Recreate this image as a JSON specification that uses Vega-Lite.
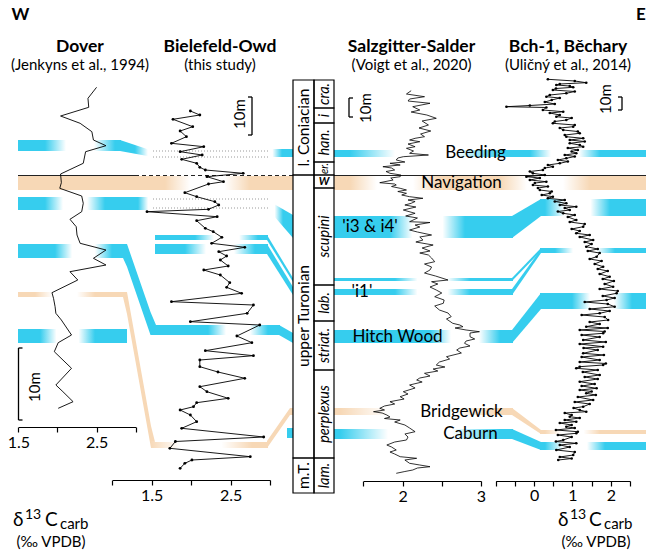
{
"$schema": "https://vega.github.io/schema/vega-lite/v6.json",
"width": 646, "height": 550, "autosize": {"type": "none"}, "padding": 0,
"background": "white",
"config": {"view": {"stroke": null}, "font": "Lato, 'DejaVu Sans'", "text": {"font": "Lato, 'DejaVu Sans'", "color": "black"}},
"datasets": {
"bands": [
{"ev":"Beeding","kind":"positive","x1":18,"x2":121,"top":140,"bot":151},
{"ev":"Navigation","kind":"negative","x1":18,"x2":293,"top":176,"bot":190},
{"ev":"i3 & i4","kind":"positive","x1":18,"x2":153,"top":197,"bot":210},
{"ev":"Hitch Wood","kind":"positive","x1":18,"x2":124,"top":244,"bot":258},
{"ev":"Bridgewick","kind":"negative","x1":18,"x2":124,"top":292,"bot":297},
{"ev":"Caburn","kind":"positive","x1":18,"x2":127,"top":329,"bot":343},
{"ev":"Beeding","kind":"positive","x1":268,"x2":293,"top":149,"bot":157},
{"ev":"Hitch Wood","kind":"positive","x1":155,"x2":280,"top":325,"bot":335},
{"ev":"i1 upper","kind":"positive","x1":155,"x2":268,"top":235,"bot":240},
{"ev":"i1","kind":"positive","x1":155,"x2":268,"top":244,"bot":254},
{"ev":"Bridgewick","kind":"negative","x1":154,"x2":268,"top":442,"bot":448},
{"ev":"Caburn","kind":"positive","x1":287,"x2":293,"top":428,"bot":438},
{"ev":"Beeding","kind":"positive","x1":334,"x2":646,"top":150,"bot":157},
{"ev":"Navigation","kind":"negative","x1":334,"x2":646,"top":176,"bot":190},
{"ev":"i3 & i4","kind":"positive","x1":334,"x2":513,"top":216,"bot":238},
{"ev":"i3 & i4","kind":"positive","x1":540,"x2":646,"top":199,"bot":216},
{"ev":"i1 upper","kind":"positive","x1":334,"x2":513,"top":278,"bot":281},
{"ev":"i1","kind":"positive","x1":334,"x2":513,"top":289,"bot":295},
{"ev":"i1","kind":"positive","x1":540,"x2":646,"top":248,"bot":253},
{"ev":"Hitch Wood","kind":"positive","x1":334,"x2":513,"top":330,"bot":343},
{"ev":"Hitch Wood","kind":"positive","x1":540,"x2":646,"top":293,"bot":309},
{"ev":"Bridgewick","kind":"negative","x1":334,"x2":513,"top":408,"bot":415},
{"ev":"Bridgewick","kind":"negative","x1":540,"x2":646,"top":430,"bot":434},
{"ev":"Caburn","kind":"positive","x1":334,"x2":513,"top":429,"bot":439},
{"ev":"Caburn","kind":"positive","x1":540,"x2":646,"top":442,"bot":450}
],
"conn": [
{"cid":"A1","kind":"positive","tx":120,"top":140,"bot":151},{"cid":"A1","kind":"positive","tx":153,"top":151,"bot":157},
{"cid":"A2","kind":"positive","tx":123,"top":244,"bot":258},{"cid":"A2","kind":"positive","tx":127,"top":244,"bot":266.7},{"cid":"A2","kind":"positive","tx":150.5,"top":312,"bot":335},{"cid":"A2","kind":"positive","tx":156,"top":325,"bot":335},
{"cid":"A3","kind":"negative","tx":123,"top":292,"bot":297},{"cid":"A3","kind":"negative","tx":127,"top":292,"bot":314},{"cid":"A3","kind":"negative","tx":151,"top":426,"bot":448},{"cid":"A3","kind":"negative","tx":155,"top":442,"bot":448},
{"cid":"B2","kind":"positive","tx":267,"top":200,"bot":208},{"cid":"B2","kind":"positive","tx":293,"top":215,"bot":238},
{"cid":"B3","kind":"positive","tx":267,"top":235,"bot":240},{"cid":"B3","kind":"positive","tx":293,"top":278,"bot":282},
{"cid":"B4","kind":"positive","tx":267,"top":244,"bot":254},{"cid":"B4","kind":"positive","tx":293,"top":287,"bot":295},
{"cid":"B5","kind":"positive","tx":279,"top":325,"bot":335},{"cid":"B5","kind":"positive","tx":293,"top":333,"bot":343},
{"cid":"B6","kind":"negative","tx":267,"top":441,"bot":448},{"cid":"B6","kind":"negative","tx":290,"top":408,"bot":415},{"cid":"B6","kind":"negative","tx":293,"top":408,"bot":415},
{"cid":"C1","kind":"positive","tx":512,"top":216,"bot":238},{"cid":"C1","kind":"positive","tx":541,"top":199,"bot":216},
{"cid":"C2","kind":"positive","tx":512,"top":278,"bot":281},{"cid":"C2","kind":"positive","tx":541,"top":248,"bot":251},
{"cid":"C3","kind":"positive","tx":512,"top":289,"bot":295},{"cid":"C3","kind":"positive","tx":541,"top":249,"bot":253},
{"cid":"C4","kind":"positive","tx":512,"top":330,"bot":343},{"cid":"C4","kind":"positive","tx":541,"top":293,"bot":309},
{"cid":"C5","kind":"negative","tx":512,"top":408,"bot":415},{"cid":"C5","kind":"negative","tx":541,"top":430,"bot":434},
{"cid":"C6","kind":"positive","tx":512,"top":429,"bot":439},{"cid":"C6","kind":"positive","tx":541,"top":442,"bot":450}
],
"fades": [
{"x1":45,"x2":115,"top":139,"bot":152},{"x1":135,"x2":178,"top":139,"bot":158},{"x1":250,"x2":282,"top":148,"bot":158},
{"x1":165,"x2":250,"top":175,"bot":191},{"x1":45,"x2":105,"top":196,"bot":211},{"x1":138,"x2":172,"top":196,"bot":211},
{"x1":255,"x2":283,"top":198,"bot":226},{"x1":55,"x2":112,"top":243,"bot":259},{"x1":208,"x2":268,"top":324,"bot":336},
{"x1":195,"x2":258,"top":234,"bot":241},{"x1":185,"x2":255,"top":243,"bot":255},{"x1":35,"x2":95,"top":291,"bot":298},
{"x1":150,"x2":252,"top":441,"bot":449},{"x1":40,"x2":95,"top":328,"bot":344},
{"x1":350,"x2":500,"top":149,"bot":158},{"x1":530,"x2":600,"top":149,"bot":158},
{"x1":350,"x2":440,"top":175,"bot":191},{"x1":500,"x2":590,"top":175,"bot":191},
{"x1":390,"x2":465,"top":215,"bot":239},{"x1":545,"x2":610,"top":198,"bot":217},
{"x1":395,"x2":470,"top":277,"bot":282},{"x1":395,"x2":470,"top":288,"bot":296},{"x1":555,"x2":615,"top":247,"bot":254},
{"x1":430,"x2":500,"top":329,"bot":344},{"x1":572,"x2":632,"top":292,"bot":310},
{"x1":340,"x2":500,"top":407,"bot":416},{"x1":545,"x2":600,"top":429,"bot":435},
{"x1":340,"x2":500,"top":428,"bot":440},{"x1":545,"x2":605,"top":441,"bot":451}
],
"dotted": [
{"x1":153,"x2":268,"lvl":151},{"x1":153,"x2":268,"lvl":157},{"x1":153,"x2":268,"lvl":199},{"x1":153,"x2":268,"lvl":208}
],
"boundary": [
{"x1":18,"x2":135,"lvl":175.5,"style":"certain"},{"x1":135,"x2":293,"lvl":175.5,"style":"uncertain"},{"x1":334,"x2":646,"lvl":175.5,"style":"certain"}
],
"stages": [
{"x1":293,"x2":314,"top":80,"bot":175,"label":"l. Coniacian","ly":127.5},
{"x1":293,"x2":314,"top":175,"bot":458,"label":"upper Turonian","ly":316},
{"x1":293,"x2":314,"top":458,"bot":493,"label":"m.T.","ly":475.5}
],
"zones": [
{"x1":314,"x2":334,"top":80,"bot":108,"label":"cra.","ly":94},
{"x1":314,"x2":334,"top":108,"bot":123,"label":"i","ly":115.5},
{"x1":314,"x2":334,"top":123,"bot":162,"label":"han.","ly":142.5},
{"x1":314,"x2":334,"top":162,"bot":175,"label":"","ly":168.5},
{"x1":314,"x2":334,"top":175,"bot":188,"label":"","ly":181.5},
{"x1":314,"x2":334,"top":188,"bot":285,"label":"scupini","ly":236.5},
{"x1":314,"x2":334,"top":285,"bot":321,"label":"lab.","ly":303},
{"x1":314,"x2":334,"top":321,"bot":370,"label":"striat.","ly":345.5},
{"x1":314,"x2":334,"top":370,"bot":458,"label":"perplexus","ly":414},
{"x1":314,"x2":334,"top":458,"bot":493,"label":"lam.","ly":475.5}
],
"zonesmall": [{"label":"er.","ly":168.5}],
"wsym": [{"label":"W","tx":324,"lvl":182}],
"bars": [
{"x1":18.5,"y1":348,"x2":18.5,"y2":420},{"x1":18.5,"y1":348,"x2":22.5,"y2":348},{"x1":18.5,"y1":420,"x2":22.5,"y2":420},
{"x1":252,"y1":97,"x2":252,"y2":135},{"x1":248,"y1":97,"x2":252,"y2":97},{"x1":248,"y1":135,"x2":252,"y2":135},
{"x1":349,"y1":98,"x2":349,"y2":117},{"x1":349,"y1":98,"x2":353,"y2":98},{"x1":349,"y1":117,"x2":353,"y2":117},
{"x1":622,"y1":97,"x2":622,"y2":110},{"x1":618,"y1":97,"x2":622,"y2":97},{"x1":618,"y1":110,"x2":622,"y2":110}
],
"barlabels": [
{"label":"10m","tx":35,"lvl":387},{"label":"10m","tx":240,"lvl":114},{"label":"10m","tx":366,"lvl":108},{"label":"10m","tx":606,"lvl":99}
],
"dover": [
{"lvl":87.3,"v":2.50},{"lvl":98.3,"v":2.39},{"lvl":107.3,"v":2.40},{"lvl":116,"v":2.04},{"lvl":123.3,"v":2.29},{"lvl":131.7,"v":2.44},{"lvl":140,"v":2.46},{"lvl":145.7,"v":2.62},{"lvl":151.7,"v":2.36},{"lvl":163.3,"v":2.33},{"lvl":174,"v":2.04},{"lvl":182.7,"v":2.05},{"lvl":188.3,"v":2.03},{"lvl":196,"v":2.31},{"lvl":203.3,"v":2.33},{"lvl":211.7,"v":2.31},{"lvl":219.3,"v":2.16},{"lvl":226.7,"v":2.24},{"lvl":235,"v":2.25},{"lvl":243.3,"v":2.29},{"lvl":250,"v":2.62},{"lvl":258.3,"v":2.46},{"lvl":265,"v":2.62},{"lvl":271.7,"v":2.16},{"lvl":280,"v":2.26},{"lvl":292.7,"v":1.93},{"lvl":298.3,"v":1.95},{"lvl":306.7,"v":1.97},{"lvl":313.3,"v":1.98},{"lvl":320,"v":2.05},{"lvl":335,"v":2.18},{"lvl":342.7,"v":2.01},{"lvl":351.7,"v":1.96},{"lvl":368.3,"v":2.18},{"lvl":375,"v":2.10},{"lvl":385,"v":1.98},{"lvl":391.7,"v":2.07},{"lvl":401.7,"v":2.20},{"lvl":408.3,"v":2.01}
],
"biel": [
{"lvl":111,"v":1.99},{"lvl":115,"v":2.11},{"lvl":119.3,"v":1.77},{"lvl":126.7,"v":2.02},{"lvl":131,"v":1.86},{"lvl":136.7,"v":1.94},{"lvl":143.3,"v":1.75},{"lvl":146.7,"v":2.16},{"lvl":151.7,"v":1.86},{"lvl":155,"v":2.14},{"lvl":159.3,"v":1.88},{"lvl":163.3,"v":2.07},{"lvl":167.3,"v":2.11},{"lvl":170,"v":2.18},{"lvl":173.3,"v":2.66},{"lvl":176.7,"v":2.20},{"lvl":181.7,"v":2.41},{"lvl":184,"v":2.22},{"lvl":192.7,"v":1.92},{"lvl":196.7,"v":2.07},{"lvl":201.7,"v":2.30},{"lvl":205,"v":2.35},{"lvl":209.3,"v":2.22},{"lvl":211.7,"v":1.44},{"lvl":216.7,"v":2.33},{"lvl":220.7,"v":2.07},{"lvl":228.3,"v":2.18},{"lvl":231.7,"v":2.28},{"lvl":237.3,"v":2.39},{"lvl":243.3,"v":2.26},{"lvl":247.3,"v":2.68},{"lvl":251.7,"v":2.35},{"lvl":256,"v":2.45},{"lvl":260,"v":2.37},{"lvl":266,"v":2.47},{"lvl":270,"v":2.16},{"lvl":275,"v":2.37},{"lvl":282.7,"v":2.49},{"lvl":287.3,"v":2.45},{"lvl":293.3,"v":2.64},{"lvl":301.7,"v":1.75},{"lvl":305,"v":2.79},{"lvl":313.3,"v":2.71},{"lvl":321.7,"v":1.99},{"lvl":325,"v":2.87},{"lvl":336,"v":2.58},{"lvl":342.7,"v":2.77},{"lvl":350.7,"v":2.18},{"lvl":355.7,"v":2.79},{"lvl":360,"v":2.11},{"lvl":366.7,"v":2.11},{"lvl":372,"v":2.34},{"lvl":378.3,"v":2.68},{"lvl":386.7,"v":2.11},{"lvl":391.7,"v":2.20},{"lvl":398.3,"v":2.47},{"lvl":402.7,"v":2.07},{"lvl":406.7,"v":2.03},{"lvl":410,"v":1.86},{"lvl":415,"v":1.99},{"lvl":421.7,"v":2.07},{"lvl":428.3,"v":1.88},{"lvl":437,"v":2.92},{"lvl":441.5,"v":1.80},{"lvl":448.3,"v":1.73},{"lvl":456.7,"v":2.75},{"lvl":460,"v":2.01},{"lvl":463.3,"v":1.92},{"lvl":468.3,"v":1.86}
],
"salz": [
{"lvl":90.7,"v":2.11},{"lvl":94,"v":2.05},{"lvl":96.7,"v":2.28},{"lvl":99,"v":2.09},{"lvl":101,"v":2.07},{"lvl":103.3,"v":2.35},{"lvl":106.7,"v":2.13},{"lvl":110,"v":2.22},{"lvl":112,"v":2.11},{"lvl":115,"v":2.31},{"lvl":118.3,"v":2.43},{"lvl":121,"v":2.25},{"lvl":125,"v":2.33},{"lvl":128,"v":2.21},{"lvl":131,"v":2.36},{"lvl":134,"v":2.23},{"lvl":136.7,"v":2.28},{"lvl":138.3,"v":2.16},{"lvl":140,"v":2.09},{"lvl":141.7,"v":2.22},{"lvl":144,"v":2.07},{"lvl":146.7,"v":2.16},{"lvl":148.3,"v":2.05},{"lvl":151,"v":2.14},{"lvl":153.3,"v":2.09},{"lvl":155,"v":2.33},{"lvl":156.7,"v":2.01},{"lvl":158,"v":1.94},{"lvl":160,"v":1.92},{"lvl":162,"v":2.03},{"lvl":163.3,"v":1.84},{"lvl":165,"v":1.97},{"lvl":166.7,"v":1.75},{"lvl":168,"v":1.86},{"lvl":170,"v":1.90},{"lvl":171.5,"v":1.79},{"lvl":173.3,"v":1.84},{"lvl":175,"v":1.98},{"lvl":176.7,"v":1.97},{"lvl":178,"v":1.85},{"lvl":180,"v":1.88},{"lvl":182.7,"v":1.71},{"lvl":184,"v":1.90},{"lvl":185,"v":1.92},{"lvl":186.5,"v":1.86},{"lvl":188.3,"v":1.97},{"lvl":190,"v":2.05},{"lvl":191.5,"v":1.94},{"lvl":193.3,"v":2.05},{"lvl":195,"v":1.99},{"lvl":196.7,"v":2.09},{"lvl":198.3,"v":2.26},{"lvl":200,"v":2.07},{"lvl":201.5,"v":2.16},{"lvl":203.3,"v":2.11},{"lvl":205,"v":2.03},{"lvl":207,"v":2.17},{"lvl":210,"v":2.01},{"lvl":213.3,"v":2.16},{"lvl":216,"v":2.04},{"lvl":218,"v":2.19},{"lvl":221.7,"v":2.09},{"lvl":222.5,"v":2.35},{"lvl":225,"v":2.16},{"lvl":227,"v":2.22},{"lvl":230,"v":2.09},{"lvl":232,"v":2.19},{"lvl":235,"v":2.37},{"lvl":237,"v":2.22},{"lvl":240,"v":2.26},{"lvl":242,"v":2.17},{"lvl":245,"v":2.39},{"lvl":248,"v":2.25},{"lvl":251,"v":2.35},{"lvl":253,"v":2.22},{"lvl":255,"v":2.33},{"lvl":258,"v":2.37},{"lvl":261.7,"v":2.41},{"lvl":264,"v":2.28},{"lvl":267,"v":2.37},{"lvl":270,"v":2.35},{"lvl":273,"v":2.28},{"lvl":276,"v":2.42},{"lvl":280,"v":2.58},{"lvl":281.7,"v":2.37},{"lvl":284,"v":2.45},{"lvl":287,"v":2.35},{"lvl":290,"v":2.43},{"lvl":293,"v":2.50},{"lvl":296.7,"v":2.41},{"lvl":300,"v":2.53},{"lvl":303.3,"v":2.52},{"lvl":306,"v":2.41},{"lvl":310,"v":2.47},{"lvl":313,"v":2.58},{"lvl":316.7,"v":2.62},{"lvl":319,"v":2.56},{"lvl":323.3,"v":2.64},{"lvl":325,"v":2.73},{"lvl":326.7,"v":2.77},{"lvl":328,"v":2.67},{"lvl":330,"v":2.81},{"lvl":331.7,"v":2.98},{"lvl":333,"v":2.86},{"lvl":336.7,"v":2.86},{"lvl":339,"v":2.92},{"lvl":341,"v":2.81},{"lvl":343.3,"v":2.79},{"lvl":346,"v":2.86},{"lvl":348,"v":2.73},{"lvl":350,"v":2.69},{"lvl":353,"v":2.75},{"lvl":356.7,"v":2.56},{"lvl":359,"v":2.60},{"lvl":362,"v":2.47},{"lvl":365,"v":2.43},{"lvl":367,"v":2.54},{"lvl":369,"v":2.39},{"lvl":371,"v":2.45},{"lvl":373.3,"v":2.28},{"lvl":376,"v":2.35},{"lvl":378,"v":2.22},{"lvl":380,"v":2.18},{"lvl":382,"v":2.25},{"lvl":385,"v":2.09},{"lvl":388,"v":2.16},{"lvl":391.7,"v":2.01},{"lvl":394,"v":2.07},{"lvl":396.7,"v":1.97},{"lvl":399,"v":2.02},{"lvl":401.7,"v":1.84},{"lvl":404,"v":1.90},{"lvl":406,"v":1.77},{"lvl":408.3,"v":1.71},{"lvl":410,"v":1.77},{"lvl":411.7,"v":1.63},{"lvl":413,"v":1.74},{"lvl":415,"v":1.80},{"lvl":417,"v":1.84},{"lvl":418.5,"v":1.77},{"lvl":420,"v":1.97},{"lvl":422,"v":1.90},{"lvl":425,"v":2.03},{"lvl":428,"v":2.09},{"lvl":431.7,"v":2.16},{"lvl":434,"v":2.03},{"lvl":437,"v":2.07},{"lvl":440,"v":2.05},{"lvl":442,"v":1.90},{"lvl":445,"v":1.80},{"lvl":447,"v":1.86},{"lvl":450,"v":1.92},{"lvl":452,"v":1.84},{"lvl":454,"v":1.90},{"lvl":456.7,"v":1.97},{"lvl":458.3,"v":2.18},{"lvl":460,"v":2.03},{"lvl":463.3,"v":2.09},{"lvl":465,"v":2.22},{"lvl":466.7,"v":2.35},{"lvl":468,"v":2.19},{"lvl":470,"v":2.13},{"lvl":471.5,"v":2.03},{"lvl":473.3,"v":1.92}
],
"bch": [
{"lvl":79.3,"v":0.36},{"lvl":81,"v":1.06},{"lvl":82.7,"v":1.36},{"lvl":84,"v":0.67},{"lvl":85,"v":0.58},{"lvl":86,"v":0.93},{"lvl":87.3,"v":1.02},{"lvl":88.5,"v":0.57},{"lvl":90,"v":0.49},{"lvl":91.5,"v":1.06},{"lvl":93.3,"v":0.84},{"lvl":95,"v":0.41},{"lvl":96.7,"v":0.32},{"lvl":98,"v":0.67},{"lvl":100,"v":0.46},{"lvl":102,"v":0.28},{"lvl":104,"v":0.54},{"lvl":105.5,"v":-0.11},{"lvl":106.7,"v":-0.72},{"lvl":107.5,"v":0.32},{"lvl":110,"v":0.23},{"lvl":111.7,"v":0.76},{"lvl":113,"v":0.41},{"lvl":115,"v":0.67},{"lvl":116.7,"v":0.58},{"lvl":118,"v":0.98},{"lvl":120,"v":0.84},{"lvl":121.5,"v":0.54},{"lvl":123.3,"v":0.49},{"lvl":125,"v":1.06},{"lvl":126.7,"v":1.02},{"lvl":128,"v":0.67},{"lvl":130,"v":0.76},{"lvl":131.5,"v":1.14},{"lvl":133.3,"v":1.19},{"lvl":135,"v":0.80},{"lvl":136.7,"v":0.84},{"lvl":138.3,"v":1.28},{"lvl":140,"v":0.93},{"lvl":141.5,"v":1.32},{"lvl":143.3,"v":0.93},{"lvl":145,"v":1.19},{"lvl":146.7,"v":1.28},{"lvl":148,"v":0.88},{"lvl":150,"v":1.14},{"lvl":151.5,"v":0.98},{"lvl":153.3,"v":1.10},{"lvl":155,"v":0.80},{"lvl":156.5,"v":1.06},{"lvl":158.3,"v":0.84},{"lvl":160,"v":0.62},{"lvl":161.5,"v":0.88},{"lvl":163.3,"v":0.67},{"lvl":165,"v":0.36},{"lvl":166.7,"v":0.49},{"lvl":168,"v":0.28},{"lvl":170,"v":0.23},{"lvl":171.5,"v":-0.11},{"lvl":173.3,"v":-0.03},{"lvl":175,"v":0.28},{"lvl":176.7,"v":-0.20},{"lvl":178,"v":0.15},{"lvl":180,"v":-0.11},{"lvl":181.7,"v":0.32},{"lvl":183,"v":0.02},{"lvl":185,"v":-0.03},{"lvl":186.5,"v":0.36},{"lvl":188,"v":0.10},{"lvl":190,"v":0.15},{"lvl":191.5,"v":0.46},{"lvl":193.3,"v":0.41},{"lvl":195,"v":0.20},{"lvl":196.7,"v":0.49},{"lvl":198.3,"v":0.36},{"lvl":200,"v":0.80},{"lvl":201.5,"v":0.54},{"lvl":203.3,"v":0.84},{"lvl":205,"v":0.67},{"lvl":206.7,"v":1.10},{"lvl":208,"v":0.80},{"lvl":210,"v":0.93},{"lvl":211.5,"v":0.62},{"lvl":213.3,"v":0.76},{"lvl":215,"v":1.06},{"lvl":217,"v":0.88},{"lvl":220,"v":1.10},{"lvl":222,"v":0.93},{"lvl":224,"v":1.32},{"lvl":226.7,"v":1.28},{"lvl":229,"v":0.98},{"lvl":231,"v":1.19},{"lvl":233.3,"v":1.10},{"lvl":235,"v":1.45},{"lvl":237,"v":1.19},{"lvl":240,"v":1.54},{"lvl":242,"v":1.32},{"lvl":244,"v":1.50},{"lvl":246.7,"v":1.36},{"lvl":249,"v":1.66},{"lvl":251,"v":1.40},{"lvl":253,"v":1.71},{"lvl":256.7,"v":1.63},{"lvl":259,"v":1.45},{"lvl":261,"v":1.76},{"lvl":264,"v":1.58},{"lvl":266.7,"v":1.80},{"lvl":269,"v":1.66},{"lvl":271,"v":1.92},{"lvl":274,"v":1.71},{"lvl":276.7,"v":1.97},{"lvl":279,"v":1.79},{"lvl":281,"v":2.08},{"lvl":284,"v":1.84},{"lvl":286.7,"v":2.06},{"lvl":289,"v":1.71},{"lvl":291,"v":2.18},{"lvl":293.3,"v":2.15},{"lvl":296,"v":1.79},{"lvl":298,"v":2.10},{"lvl":300,"v":1.89},{"lvl":302,"v":1.32},{"lvl":304,"v":1.92},{"lvl":306.7,"v":2.10},{"lvl":309,"v":1.45},{"lvl":311,"v":1.97},{"lvl":313.3,"v":1.71},{"lvl":315,"v":1.24},{"lvl":317,"v":1.84},{"lvl":320,"v":1.93},{"lvl":322,"v":1.45},{"lvl":324,"v":1.71},{"lvl":326.7,"v":1.36},{"lvl":328,"v":1.92},{"lvl":330,"v":1.19},{"lvl":331.5,"v":1.84},{"lvl":333.3,"v":1.80},{"lvl":335,"v":1.24},{"lvl":337,"v":1.71},{"lvl":340,"v":1.28},{"lvl":342,"v":1.87},{"lvl":344,"v":1.19},{"lvl":346.7,"v":1.80},{"lvl":348,"v":1.29},{"lvl":350,"v":1.66},{"lvl":353.3,"v":1.28},{"lvl":355,"v":1.82},{"lvl":357,"v":1.24},{"lvl":360,"v":1.71},{"lvl":362,"v":1.19},{"lvl":363.5,"v":1.87},{"lvl":365,"v":1.80},{"lvl":366.7,"v":1.19},{"lvl":368.3,"v":1.10},{"lvl":370,"v":1.66},{"lvl":372,"v":1.27},{"lvl":375,"v":1.71},{"lvl":377,"v":1.32},{"lvl":379,"v":1.66},{"lvl":381.7,"v":1.19},{"lvl":384,"v":1.58},{"lvl":386,"v":1.24},{"lvl":388.3,"v":1.63},{"lvl":390,"v":1.19},{"lvl":391.5,"v":1.50},{"lvl":393.3,"v":1.36},{"lvl":395,"v":1.61},{"lvl":397,"v":1.14},{"lvl":400,"v":1.54},{"lvl":402,"v":1.06},{"lvl":404,"v":1.45},{"lvl":406.7,"v":1.28},{"lvl":408,"v":1.03},{"lvl":410,"v":1.19},{"lvl":411.7,"v":1.36},{"lvl":413,"v":0.80},{"lvl":415,"v":0.98},{"lvl":416.7,"v":0.93},{"lvl":418,"v":1.19},{"lvl":420,"v":0.80},{"lvl":421.7,"v":1.10},{"lvl":423,"v":0.67},{"lvl":425,"v":0.98},{"lvl":426.7,"v":0.84},{"lvl":428,"v":1.06},{"lvl":430,"v":0.57},{"lvl":431.7,"v":1.14},{"lvl":433.3,"v":1.10},{"lvl":435,"v":0.62},{"lvl":437,"v":0.98},{"lvl":440,"v":0.76},{"lvl":441.5,"v":0.57},{"lvl":443.3,"v":1.10},{"lvl":445,"v":0.67},{"lvl":447,"v":0.93},{"lvl":450,"v":0.58},{"lvl":452,"v":1.06},{"lvl":455,"v":1.02},{"lvl":457,"v":0.67},{"lvl":458.5,"v":0.98},{"lvl":460,"v":0.63}
],
"titles": [
{"label":"Dover","tx":80,"lvl":47},{"label":"Bielefeld-Owd","tx":220,"lvl":47},{"label":"Salzgitter-Salder","tx":411.5,"lvl":47},{"label":"Bch-1, Běchary","tx":568,"lvl":47}
],
"subtitles": [
{"label":"(Jenkyns et al., 1994)","tx":80,"lvl":64.5},{"label":"(this study)","tx":220,"lvl":64.5},{"label":"(Voigt et al., 2020)","tx":411.5,"lvl":64.5},{"label":"(Uličný et al., 2014)","tx":568,"lvl":64.5}
],
"evlabels": [
{"label":"Beeding","tx":475.5,"lvl":153},{"label":"Navigation","tx":461.5,"lvl":183},{"label":"'i3 & i4'","tx":370,"lvl":227},{"label":"'i1'","tx":362,"lvl":292},{"label":"Hitch Wood","tx":397.5,"lvl":337},{"label":"Bridgewick","tx":461.5,"lvl":411.5},{"label":"Caburn","tx":470.5,"lvl":434}
],
"compass": [{"label":"W","tx":20.5,"lvl":15},{"label":"E","tx":641,"lvl":15}],
"dmain": [{"t":"δ","tx":13,"lvl":525.5},{"t":"C","tx":45,"lvl":525.5},{"t":"δ","tx":558,"lvl":525.5},{"t":"C","tx":589,"lvl":525.5}],
"dsup": [{"t":"13","tx":25,"lvl":518.5},{"t":"13","tx":570,"lvl":518.5}],
"dsub": [{"t":"carb","tx":60,"lvl":529},{"t":"carb","tx":604,"lvl":529}],
"dunit": [{"t":"(‰ VPDB)","tx":51,"lvl":542},{"t":"(‰ VPDB)","tx":596,"lvl":542}]
},
"layer": [
{"data":{"name":"bands"},"mark":{"type":"rect","opacity":1},
 "encoding":{"x":{"field":"x1","type":"quantitative","scale":{"domain":[0,646]},"axis":null},"x2":{"field":"x2"},
  "y":{"field":"top","type":"quantitative","scale":{"domain":[0,550],"reverse":true},"axis":null},"y2":{"field":"bot"},
  "color":{"field":"kind","type":"nominal","scale":{"domain":["positive","negative"],"range":["#36cdee","#f7d8b6"]},"legend":null}}},
{"data":{"name":"conn"},"mark":{"type":"area","opacity":1},
 "encoding":{"x":{"field":"tx","type":"quantitative","scale":{"domain":[0,646]},"axis":null},
  "y":{"field":"top","type":"quantitative","scale":{"domain":[0,550],"reverse":true},"axis":null},"y2":{"field":"bot"},
  "detail":{"field":"cid"},
  "color":{"field":"kind","type":"nominal","scale":{"domain":["positive","negative"],"range":["#36cdee","#f7d8b6"]},"legend":null}}},
{"data":{"name":"fades"},"mark":{"type":"rect","opacity":1,"fill":{"gradient":"linear","x1":0,"y1":0,"x2":1,"y2":0,"stops":[{"offset":0,"color":"rgba(255,255,255,0)"},{"offset":0.3,"color":"#ffffff"},{"offset":0.7,"color":"#ffffff"},{"offset":1,"color":"rgba(255,255,255,0)"}]}},
 "encoding":{"x":{"field":"x1","type":"quantitative","scale":{"domain":[0,646]},"axis":null},"x2":{"field":"x2"},
  "y":{"field":"top","type":"quantitative","scale":{"domain":[0,550],"reverse":true},"axis":null},"y2":{"field":"bot"}}},
{"data":{"name":"dotted"},"mark":{"type":"rule","color":"#9a9a9a","strokeWidth":1,"strokeDash":[1,2]},
 "encoding":{"x":{"field":"x1","type":"quantitative","scale":{"domain":[0,646]},"axis":null},"x2":{"field":"x2"},
  "y":{"field":"lvl","type":"quantitative","scale":{"domain":[0,550],"reverse":true},"axis":null}}},
{"data":{"name":"boundary"},"mark":{"type":"rule","color":"#222","strokeWidth":1.1},
 "encoding":{"x":{"field":"x1","type":"quantitative","scale":{"domain":[0,646]},"axis":null},"x2":{"field":"x2"},
  "y":{"field":"lvl","type":"quantitative","scale":{"domain":[0,550],"reverse":true},"axis":null},
  "strokeDash":{"field":"style","type":"nominal","scale":{"domain":["certain","uncertain"],"range":[[1,0],[4,3]]},"legend":null}}},
{"data":{"name":"stages"},"mark":{"type":"rect","filled":false,"color":"black","strokeWidth":1.2},
 "encoding":{"x":{"field":"x1","type":"quantitative","scale":{"domain":[0,646]},"axis":null},"x2":{"field":"x2"},
  "y":{"field":"top","type":"quantitative","scale":{"domain":[0,550],"reverse":true},"axis":null},"y2":{"field":"bot"}}},
{"data":{"name":"zones"},"mark":{"type":"rect","filled":false,"color":"black","strokeWidth":1.2},
 "encoding":{"x":{"field":"x1","type":"quantitative","scale":{"domain":[0,646]},"axis":null},"x2":{"field":"x2"},
  "y":{"field":"top","type":"quantitative","scale":{"domain":[0,550],"reverse":true},"axis":null},"y2":{"field":"bot"}}},
{"data":{"name":"stages"},"mark":{"type":"text","angle":270,"fontSize":15.5,"align":"center","baseline":"middle"},
 "encoding":{"x":{"datum":304,"type":"quantitative","scale":{"domain":[0,646]},"axis":null},
  "y":{"field":"ly","type":"quantitative","scale":{"domain":[0,550],"reverse":true},"axis":null},"text":{"field":"label"}}},
{"data":{"name":"zones"},"mark":{"type":"text","angle":270,"fontSize":14.5,"fontStyle":"italic","align":"center","baseline":"middle"},
 "encoding":{"x":{"datum":324.5,"type":"quantitative","scale":{"domain":[0,646]},"axis":null},
  "y":{"field":"ly","type":"quantitative","scale":{"domain":[0,550],"reverse":true},"axis":null},"text":{"field":"label"}}},
{"data":{"name":"zonesmall"},"mark":{"type":"text","angle":270,"fontSize":11,"fontStyle":"italic","align":"center","baseline":"middle"},
 "encoding":{"x":{"datum":324.5,"type":"quantitative","scale":{"domain":[0,646]},"axis":null},
  "y":{"field":"ly","type":"quantitative","scale":{"domain":[0,550],"reverse":true},"axis":null},"text":{"field":"label"}}},
{"data":{"name":"wsym"},"mark":{"type":"text","fontSize":11,"fontStyle":"italic","fontWeight":"bold","align":"center","baseline":"middle"},
 "encoding":{"x":{"field":"tx","type":"quantitative","scale":{"domain":[0,646]},"axis":null},
  "y":{"field":"lvl","type":"quantitative","scale":{"domain":[0,550],"reverse":true},"axis":null},"text":{"field":"label"}}},
{"data":{"name":"bars"},"mark":{"type":"rule","color":"black","strokeWidth":1.3},
 "encoding":{"x":{"field":"x1","type":"quantitative","scale":{"domain":[0,646]},"axis":null},"x2":{"field":"x2"},
  "y":{"field":"y1","type":"quantitative","scale":{"domain":[0,550],"reverse":true},"axis":null},"y2":{"field":"y2"}}},
{"data":{"name":"barlabels"},"mark":{"type":"text","angle":270,"fontSize":15,"align":"center","baseline":"middle"},
 "encoding":{"x":{"field":"tx","type":"quantitative","scale":{"domain":[0,646]},"axis":null},
  "y":{"field":"lvl","type":"quantitative","scale":{"domain":[0,550],"reverse":true},"axis":null},"text":{"field":"label"}}},
{"data":{"name":"dover"},"mark":{"type":"line","color":"black","strokeWidth":0.9},
 "encoding":{"x":{"field":"v","type":"quantitative","scale":{"domain":[1.5,3.0],"range":[18.3,135.7]},
   "axis":{"orient":"bottom","offset":-123,"values":[1.5,2,2.5,3],"labelExpr":"datum.value==1.5 ? '1.5' : datum.value==2.5 ? '2.5' : ''","title":null,"grid":false,"domainColor":"black","tickColor":"black","tickSize":5,"domainWidth":1.2,"tickWidth":1.2,"labelFontSize":16,"labelFont":"Lato","labelColor":"black","labelPadding":2,"labelOverlap":false,"labelFlush":false}},
  "y":{"field":"lvl","type":"quantitative","scale":{"domain":[0,550],"reverse":true},"axis":null},"order":{"field":"lvl"}}},
{"data":{"name":"biel"},"mark":{"type":"line","color":"black","strokeWidth":0.9},
 "encoding":{"x":{"field":"v","type":"quantitative","scale":{"domain":[1.0,3.0],"range":[112.3,270]},
   "axis":{"orient":"bottom","offset":-70,"values":[1,1.5,2,2.5,3],"labelExpr":"datum.value==1.5 ? '1.5' : datum.value==2.5 ? '2.5' : ''","title":null,"grid":false,"domainColor":"black","tickColor":"black","tickSize":5,"domainWidth":1.2,"tickWidth":1.2,"labelFontSize":16,"labelFont":"Lato","labelColor":"black","labelPadding":2,"labelOverlap":false,"labelFlush":false}},
  "y":{"field":"lvl","type":"quantitative","scale":{"domain":[0,550],"reverse":true},"axis":null},"order":{"field":"lvl"}}},
{"data":{"name":"biel"},"mark":{"type":"point","filled":true,"color":"black","size":8,"opacity":1},
 "encoding":{"x":{"field":"v","type":"quantitative","scale":{"domain":[1.0,3.0],"range":[112.3,270]},"axis":null},
  "y":{"field":"lvl","type":"quantitative","scale":{"domain":[0,550],"reverse":true},"axis":null}}},
{"data":{"name":"salz"},"mark":{"type":"line","color":"black","strokeWidth":0.8},
 "encoding":{"x":{"field":"v","type":"quantitative","scale":{"domain":[1.5,3.0],"range":[363.3,481]},
   "axis":{"orient":"bottom","offset":-69,"values":[1.5,2,2.5,3],"labelExpr":"datum.value==2 ? '2' : datum.value==3 ? '3' : ''","title":null,"grid":false,"domainColor":"black","tickColor":"black","tickSize":5,"domainWidth":1.2,"tickWidth":1.2,"labelFontSize":16,"labelFont":"Lato","labelColor":"black","labelPadding":2,"labelOverlap":false,"labelFlush":false}},
  "y":{"field":"lvl","type":"quantitative","scale":{"domain":[0,550],"reverse":true},"axis":null},"order":{"field":"lvl"}}},
{"data":{"name":"bch"},"mark":{"type":"line","color":"black","strokeWidth":0.9},
 "encoding":{"x":{"field":"v","type":"quantitative","scale":{"domain":[-1,2.5],"range":[495.7,630]},
   "axis":{"orient":"bottom","offset":-69,"values":[-1,-0.5,0,0.5,1,1.5,2,2.5],"labelExpr":"datum.value==0 ? '0' : datum.value==1 ? '1' : datum.value==2 ? '2' : ''","title":null,"grid":false,"domainColor":"black","tickColor":"black","tickSize":5,"domainWidth":1.2,"tickWidth":1.2,"labelFontSize":16,"labelFont":"Lato","labelColor":"black","labelPadding":1,"labelOverlap":false,"labelFlush":false}},
  "y":{"field":"lvl","type":"quantitative","scale":{"domain":[0,550],"reverse":true},"axis":null},"order":{"field":"lvl"}}},
{"data":{"name":"bch"},"mark":{"type":"point","filled":true,"color":"black","size":7,"opacity":1},
 "encoding":{"x":{"field":"v","type":"quantitative","scale":{"domain":[-1,2.5],"range":[495.7,630]},"axis":null},
  "y":{"field":"lvl","type":"quantitative","scale":{"domain":[0,550],"reverse":true},"axis":null}}},
{"data":{"name":"titles"},"mark":{"type":"text","fontSize":17.5,"fontWeight":"bold","align":"center","baseline":"middle"},
 "encoding":{"x":{"field":"tx","type":"quantitative","scale":{"domain":[0,646]},"axis":null},
  "y":{"field":"lvl","type":"quantitative","scale":{"domain":[0,550],"reverse":true},"axis":null},"text":{"field":"label"}}},
{"data":{"name":"subtitles"},"mark":{"type":"text","fontSize":15,"align":"center","baseline":"middle"},
 "encoding":{"x":{"field":"tx","type":"quantitative","scale":{"domain":[0,646]},"axis":null},
  "y":{"field":"lvl","type":"quantitative","scale":{"domain":[0,550],"reverse":true},"axis":null},"text":{"field":"label"}}},
{"data":{"name":"evlabels"},"mark":{"type":"text","fontSize":17,"align":"center","baseline":"middle"},
 "encoding":{"x":{"field":"tx","type":"quantitative","scale":{"domain":[0,646]},"axis":null},
  "y":{"field":"lvl","type":"quantitative","scale":{"domain":[0,550],"reverse":true},"axis":null},"text":{"field":"label"}}},
{"data":{"name":"compass"},"mark":{"type":"text","fontSize":17,"fontWeight":"bold","align":"center","baseline":"middle"},
 "encoding":{"x":{"field":"tx","type":"quantitative","scale":{"domain":[0,646]},"axis":null},
  "y":{"field":"lvl","type":"quantitative","scale":{"domain":[0,550],"reverse":true},"axis":null},"text":{"field":"label"}}},
{"data":{"name":"dmain"},"mark":{"type":"text","fontSize":19,"align":"left","baseline":"alphabetic"},
 "encoding":{"x":{"field":"tx","type":"quantitative","scale":{"domain":[0,646]},"axis":null},
  "y":{"field":"lvl","type":"quantitative","scale":{"domain":[0,550],"reverse":true},"axis":null},"text":{"field":"t"}}},
{"data":{"name":"dsup"},"mark":{"type":"text","fontSize":14,"align":"left","baseline":"alphabetic"},
 "encoding":{"x":{"field":"tx","type":"quantitative","scale":{"domain":[0,646]},"axis":null},
  "y":{"field":"lvl","type":"quantitative","scale":{"domain":[0,550],"reverse":true},"axis":null},"text":{"field":"t"}}},
{"data":{"name":"dsub"},"mark":{"type":"text","fontSize":15,"align":"left","baseline":"alphabetic"},
 "encoding":{"x":{"field":"tx","type":"quantitative","scale":{"domain":[0,646]},"axis":null},
  "y":{"field":"lvl","type":"quantitative","scale":{"domain":[0,550],"reverse":true},"axis":null},"text":{"field":"t"}}},
{"data":{"name":"dunit"},"mark":{"type":"text","fontSize":15,"align":"center","baseline":"middle"},
 "encoding":{"x":{"field":"tx","type":"quantitative","scale":{"domain":[0,646]},"axis":null},
  "y":{"field":"lvl","type":"quantitative","scale":{"domain":[0,550],"reverse":true},"axis":null},"text":{"field":"t"}}}
],
"resolve": {"scale": {"x": "independent"}, "axis": {"x": "independent"}}
}
